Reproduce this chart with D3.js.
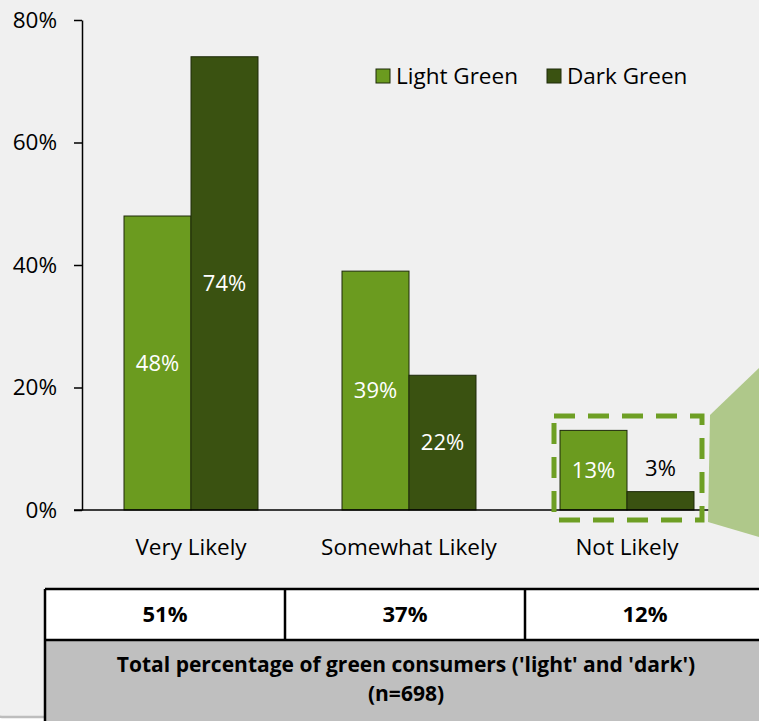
<!DOCTYPE html>
<html>
<head>
<meta charset="utf-8">
<script src="https://cdn.jsdelivr.net/npm/d3@7"></script>
<style>
  html, body { margin: 0; padding: 0; background: #ffffff; }
  svg { display: block; font-family: "Open Sans", "DejaVu Sans", sans-serif; }
</style>
</head>
<body>
<svg id="chart" width="759" height="721"></svg>
<script>
// Likelihood by green-consumer segment
const categories = ["Very Likely", "Somewhat Likely", "Not Likely"];
const seriesNames = ["Light Green", "Dark Green"];
const lightGreen = [48, 39, 13];
const darkGreen = [74, 22, 3];
const yTicks = [0, 20, 40, 60, 80];
const totals = ["51%", "37%", "12%"];
const footerLines = ["Total percentage of green consumers ('light' and 'dark')", "(n=698)"];

const colors = { "Light Green": "#6b9b1f", "Dark Green": "#3a5211" };
const FONT = "'Open Sans', sans-serif";
const FS = 22.5;
const FS_BAR = 22;
const FS_TABLE = 21;

const svg = d3.select("#chart");
const W = 759, H = 721;

// panel background with rounded lower corner
svg.append("rect").attr("width", W).attr("height", H).attr("fill", "#ffffff");
svg.append("rect")
  .attr("x", -22).attr("y", -30).attr("width", W + 60).attr("height", 747)
  .attr("rx", 26).attr("ry", 26)
  .attr("fill", "#f0f0f0").attr("stroke", "#bdbdbd").attr("stroke-width", 2.5);

const data = categories.map((c, i) => ({
  category: c,
  values: [
    { name: seriesNames[0], value: lightGreen[i] },
    { name: seriesNames[1], value: darkGreen[i] }
  ]
}));

const x = d3.scaleBand().domain(categories).range([82, 736]).padding(0);
const xInner = d3.scaleBand().domain(seriesNames).range([0, x.bandwidth()])
  .paddingInner(0).paddingOuter(0.627);
const y = d3.scaleLinear().domain([0, 80]).range([510, 20]);

// y axis
const yAxis = svg.append("g")
  .attr("transform", "translate(82,0)")
  .call(d3.axisLeft(y).tickValues(yTicks).tickSize(8).tickSizeOuter(0).tickPadding(17)
    .tickFormat(d => d + "%"));
yAxis.select(".domain").attr("stroke", "#000").attr("stroke-width", 1.5);
yAxis.selectAll(".tick line").attr("stroke", "#000").attr("stroke-width", 1.5);
yAxis.selectAll(".tick text").attr("font-size", FS).attr("fill", "#000")
  .attr("font-family", FONT);

// bars
const groups = svg.append("g").selectAll("g").data(data).join("g")
  .attr("transform", d => `translate(${x(d.category)},0)`);

groups.selectAll("rect").data(d => d.values).join("rect")
  .attr("x", d => xInner(d.name))
  .attr("y", d => y(d.value))
  .attr("width", xInner.bandwidth())
  .attr("height", d => y(0) - y(d.value))
  .attr("fill", d => colors[d.name])
  .attr("stroke", "#1e2a0a").attr("stroke-width", 1);

groups.selectAll("text.val").data(d => d.values).join("text")
  .attr("class", "val")
  .attr("x", d => xInner(d.name) + xInner.bandwidth() / 2)
  .attr("y", d => {
    const h = y(0) - y(d.value);
    return h < 30 ? y(d.value) - 23 : (y(d.value) + y(0)) / 2;
  })
  .attr("dy", "0.35em")
  .attr("text-anchor", "middle")
  .attr("font-size", FS_BAR)
  .attr("font-family", FONT)
  .attr("fill", d => (y(0) - y(d.value)) < 30 ? "#000" : "#fff")
  .text(d => d.value + "%");

// x axis baseline and category labels
const xAxis = svg.append("g").attr("transform", `translate(0,${y(0)})`)
  .call(d3.axisBottom(x).tickSize(0).tickPadding(29));
xAxis.select(".domain").remove();
xAxis.selectAll(".tick text").attr("font-size", FS).attr("fill", "#000")
  .attr("font-family", FONT);
svg.append("line")
  .attr("x1", 74).attr("x2", 737).attr("y1", y(0)).attr("y2", y(0))
  .attr("stroke", "#000").attr("stroke-width", 1.5);

// highlight around the last category
const hl = x(categories[2]);
svg.append("rect")
  .attr("x", hl + xInner(seriesNames[0]) - 6)
  .attr("y", 416)
  .attr("width", 148).attr("height", 104)
  .attr("fill", "none").attr("stroke", "#6e9f24").attr("stroke-width", 5)
  .attr("stroke-dasharray", "21,13");

// callout wedge
svg.append("path")
  .attr("d", "M710,415 L759,368 L759,537 L708,522 Z")
  .attr("fill", "#afc88a");

// legend
const legend = svg.append("g").attr("transform", "translate(376,69)");
const lx = [0, 171];
seriesNames.forEach((n, i) => {
  const g = legend.append("g").attr("transform", `translate(${lx[i]},0)`);
  g.append("rect").attr("width", 14).attr("height", 14)
    .attr("fill", colors[n]).attr("stroke", "#1e2a0a").attr("stroke-width", 1);
  g.append("text").attr("x", 20).attr("y", 7).attr("dy", "0.35em")
    .attr("font-size", FS).attr("font-family", FONT).attr("fill", "#000").text(n);
});

// summary table
const tbl = svg.append("g");
const colX = [45, 285, 525, 770];
const rowY = [589, 640, 740];
tbl.append("rect").attr("x", colX[0]).attr("y", rowY[0])
  .attr("width", colX[3] - colX[0]).attr("height", rowY[1] - rowY[0]).attr("fill", "#ffffff");
tbl.append("rect").attr("x", colX[0]).attr("y", rowY[1])
  .attr("width", colX[3] - colX[0]).attr("height", rowY[2] - rowY[1]).attr("fill", "#bfbfbf");
[rowY[0], rowY[1]].forEach(yy => tbl.append("line")
  .attr("x1", colX[0]).attr("x2", colX[3]).attr("y1", yy).attr("y2", yy)
  .attr("stroke", "#000").attr("stroke-width", 2.5));
tbl.append("line").attr("x1", colX[0]).attr("x2", colX[0]).attr("y1", rowY[0]).attr("y2", rowY[2])
  .attr("stroke", "#000").attr("stroke-width", 2.5);
[colX[1], colX[2]].forEach(xx => tbl.append("line")
  .attr("x1", xx).attr("x2", xx).attr("y1", rowY[0]).attr("y2", rowY[1])
  .attr("stroke", "#000").attr("stroke-width", 2.5));
totals.forEach((t, i) => tbl.append("text")
  .attr("x", [165, 405, 645][i]).attr("y", 614).attr("dy", "0.35em")
  .attr("text-anchor", "middle").attr("font-weight", "bold").attr("font-size", 22)
  .attr("font-family", FONT).attr("fill", "#000").text(t));
footerLines.forEach((t, i) => tbl.append("text")
  .attr("x", 406).attr("y", 665 + i * 29).attr("dy", "0.35em")
  .attr("text-anchor", "middle").attr("font-weight", "bold").attr("font-size", FS_TABLE)
  .attr("font-family", FONT).attr("fill", "#000").text(t));
</script>
</body>
</html>
